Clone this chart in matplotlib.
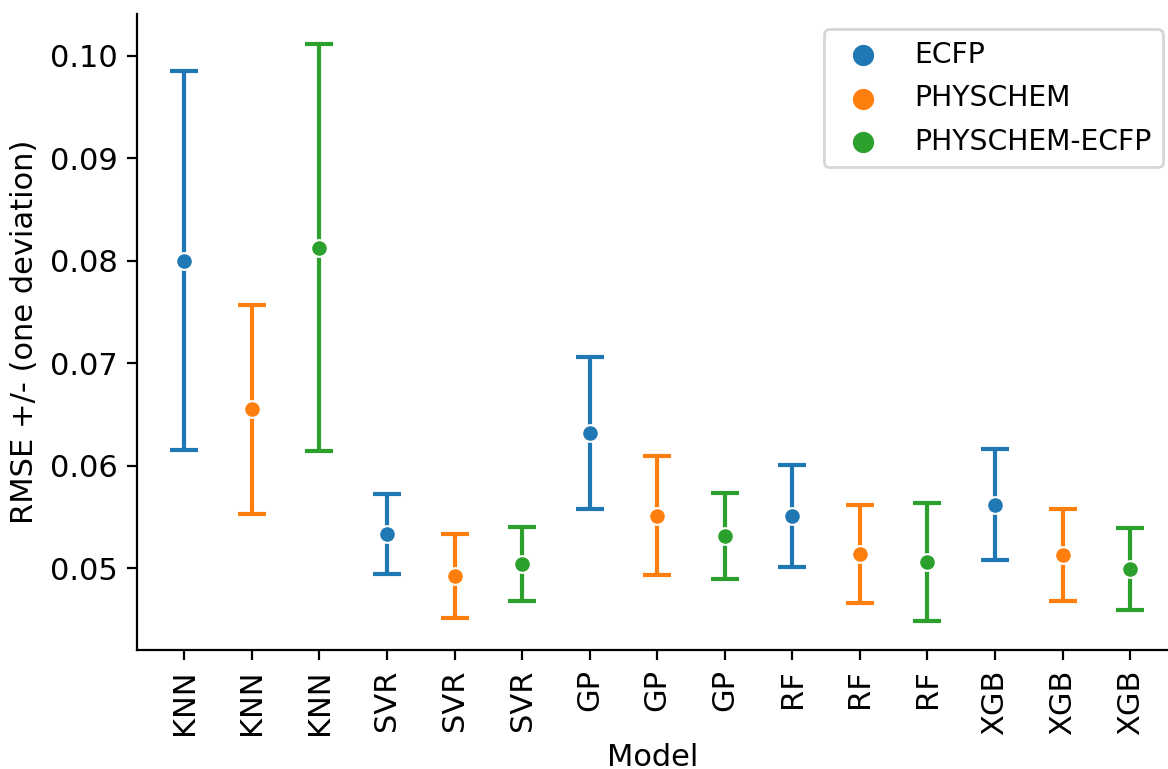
import matplotlib
matplotlib.use("Agg")
import matplotlib.pyplot as plt
import numpy as np

models = ["KNN", "KNN", "KNN", "SVR", "SVR", "SVR", "GP", "GP", "GP",
          "RF", "RF", "RF", "XGB", "XGB", "XGB"]
features = ["ECFP", "PHYSCHEM", "PHYSCHEM-ECFP"] * 5
rmse = [0.0800, 0.0655, 0.0813,
        0.0533, 0.0492, 0.0504,
        0.0632, 0.0551, 0.0531,
        0.0551, 0.0514, 0.0506,
        0.0562, 0.0513, 0.0499]
std = [0.0185, 0.0102, 0.0199,
       0.0039, 0.0041, 0.0036,
       0.0074, 0.0058, 0.0042,
       0.0050, 0.0048, 0.0058,
       0.0054, 0.0045, 0.0040]
feature_names = ["ECFP", "PHYSCHEM", "PHYSCHEM-ECFP"]
colors = {"ECFP": "#1f77b4", "PHYSCHEM": "#ff7f0e", "PHYSCHEM-ECFP": "#2ca02c"}

plt.rcParams["font.family"] = ["DejaVu Sans"]
plt.rcParams["font.size"] = 11

fig = plt.figure(figsize=(5.84, 3.845), dpi=200)
ax = fig.add_axes([0.1173, 0.1547, 0.8827, 0.8271])

x = np.arange(len(models))
for i in range(len(models)):
    ax.errorbar(x[i], rmse[i], yerr=std[i], fmt="none",
                ecolor=colors[features[i]], elinewidth=1.5, capsize=5,
                capthick=1.5, zorder=1)

for f in feature_names:
    idx = [i for i, ff in enumerate(features) if ff == f]
    ax.scatter(x[idx], [rmse[i] for i in idx], s=36, color=colors[f],
               edgecolor="white", linewidth=0.75, label=f, zorder=3)

ax.set_xticks(x)
ax.set_xticklabels(models, rotation=90)
ax.set_xlim(-0.7, 14.56)
ax.set_ylim(0.0420, 0.1041)
ax.set_yticks([0.05, 0.06, 0.07, 0.08, 0.09, 0.10])
ax.set_yticklabels(["0.05", "0.06", "0.07", "0.08", "0.09", "0.10"])
ax.set_xlabel("Model", labelpad=3)
ax.set_ylabel("RMSE +/- (one deviation)")
ax.spines["top"].set_visible(False)
ax.spines["right"].set_visible(False)
ax.legend(loc="upper right", fontsize=10.2, markerscale=1.4,
          labelspacing=0.55, bbox_to_anchor=(1.009, 0.998))

fig.savefig("out.png", dpi=200)
